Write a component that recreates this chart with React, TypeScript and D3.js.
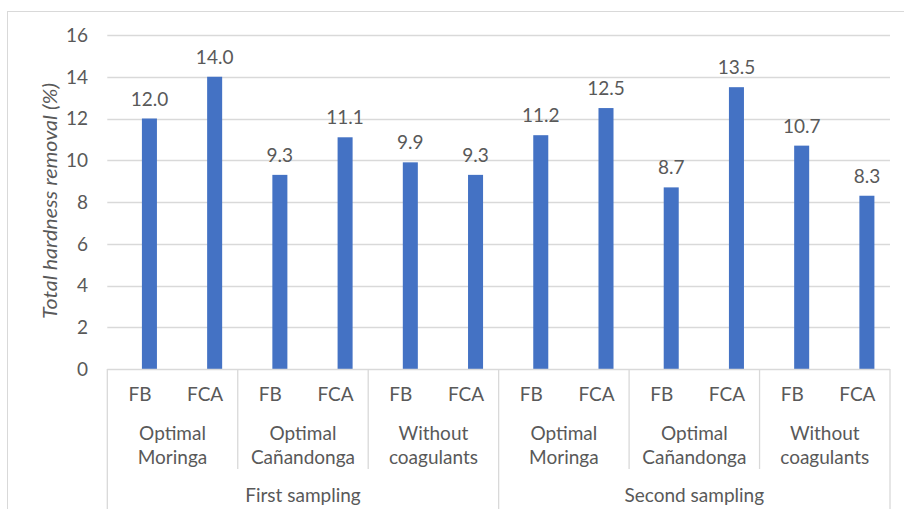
import React from "react";
import * as d3 from "d3";

// Sampling campaigns, coagulant treatments and filter types
const samplings = ["First sampling", "Second sampling"];
const treatments = [
  ["Optimal", "Moringa"],
  ["Optimal", "Cañandonga"],
  ["Without", "coagulants"],
];
const filters = ["FB", "FCA"];

// Total hardness removal (%) per sampling → treatment → filter
const firstSampling = [12.0, 14.0, 9.3, 11.1, 9.9, 9.3];
const secondSampling = [11.2, 12.5, 8.7, 13.5, 10.7, 8.3];

const yTicks = [0, 2, 4, 6, 8, 10, 12, 14, 16];
const yTitle = "Total hardness removal (%)";

const W = 904;
const H = 509;
const FONT = "Lato, 'Open Sans', sans-serif";
const FS = 19;
const TEXT = "#595959";
const GRID = "#D9D9D9";
const BAR = "#4472C4";

type Row = { key: string; sampling: number; treatment: number; filter: number; value: number };

const rows: Row[] = [];
[firstSampling, secondSampling].forEach((vals, s) => {
  vals.forEach((v, i) => {
    rows.push({
      key: `${s}-${i}`,
      sampling: s,
      treatment: Math.floor(i / filters.length),
      filter: i % filters.length,
      value: v,
    });
  });
});

export default function App() {
  const plot = { left: 107.3, right: 890, top: 35, bottom: 369 };

  const x = d3
    .scaleBand<string>()
    .domain(rows.map((r) => r.key))
    .range([plot.left, plot.right])
    .padding(0);

  // each category holds a pair of slots; the visible bar sits in the second
  const slot = d3
    .scaleBand<string>()
    .domain(["gap", "bar"])
    .range([0, x.bandwidth()])
    .paddingInner(0.21)
    .paddingOuter(0.82);

  const y = d3.scaleLinear().domain([0, 16]).range([plot.bottom, plot.top]);

  const step = x.step();
  const groupW = step * filters.length;
  const samplingW = groupW * treatments.length;

  const barW = slot.bandwidth();

  return (
    <svg
      width={W}
      height={H}
      style={{ position: "absolute", left: 0, top: 0, display: "block", background: "#fff" }}
      fontFamily={FONT}
    >
      {/* chart frame */}
      <rect x={7.5} y={11.5} width={W} height={H} fill="none" stroke={GRID} strokeWidth={1} />

      {/* gridlines and y tick labels */}
      {yTicks.map((t) => (
        <g key={t}>
          {t > 0 && (
            <line x1={plot.left} x2={plot.right} y1={Math.round(y(t)) + 0.5} y2={Math.round(y(t)) + 0.5} stroke={GRID} strokeWidth={1.3} />
          )}
          <text x={88} y={y(t)} dy="0.36em" textAnchor="end" fontSize={FS} fill={TEXT}>
            {t}
          </text>
        </g>
      ))}

      {/* y axis title */}
      <text
        transform={`translate(57, 201) rotate(-90)`}
        textAnchor="middle"
        fontSize={FS}
        fontStyle="italic"
        fill={TEXT}
        textLength={236}
        lengthAdjust="spacingAndGlyphs"
      >
        {yTitle}
      </text>

      {/* bars and value labels */}
      {rows.map((r) => {
        const bx = (x(r.key) as number) + (slot("bar") as number);
        const cx = bx + barW / 2;
        return (
          <g key={r.key}>
            <rect x={bx} y={y(r.value)} width={barW} height={y(0) - y(r.value)} fill={BAR} />
            <text x={cx} y={y(r.value) - 13} textAnchor="middle" fontSize={FS} fill={TEXT}>
              {r.value.toFixed(1)}
            </text>
          </g>
        );
      })}

      {/* category axis line */}
      <line x1={plot.left} x2={plot.right} y1={plot.bottom + 0.5} y2={plot.bottom + 0.5} stroke={GRID} strokeWidth={1.3} />

      {/* multi-level category labels */}
      {rows.map((r) => (
        <text
          key={`f-${r.key}`}
          x={(x(r.key) as number) + step / 2}
          y={394}
          dy="0.36em"
          textAnchor="middle"
          fontSize={FS}
          fill={TEXT}
        >
          {filters[r.filter]}
        </text>
      ))}

      {samplings.map((s, si) => {
        const sx = plot.left + si * samplingW;
        return (
          <g key={s}>
            {treatments.map((t, ti) => {
              const gx = sx + ti * groupW;
              return (
                <g key={ti}>
                  {ti > 0 && (
                    <line x1={gx} x2={gx} y1={plot.bottom} y2={469} stroke={GRID} strokeWidth={1.3} />
                  )}
                  <text x={gx + groupW / 2} y={433} dy="0.36em" textAnchor="middle" fontSize={FS} fill={TEXT}>
                    {t[0]}
                  </text>
                  <text x={gx + groupW / 2} y={457} dy="0.36em" textAnchor="middle" fontSize={FS} fill={TEXT}>
                    {t[1]}
                  </text>
                </g>
              );
            })}
            <line x1={sx} x2={sx} y1={plot.bottom} y2={H} stroke={GRID} strokeWidth={1.3} />
            <text x={sx + samplingW / 2} y={495} dy="0.36em" textAnchor="middle" fontSize={FS} fill={TEXT}>
              {s}
            </text>
          </g>
        );
      })}
      <line x1={plot.right} x2={plot.right} y1={plot.bottom} y2={H} stroke={GRID} strokeWidth={1.3} />
    </svg>
  );
}
